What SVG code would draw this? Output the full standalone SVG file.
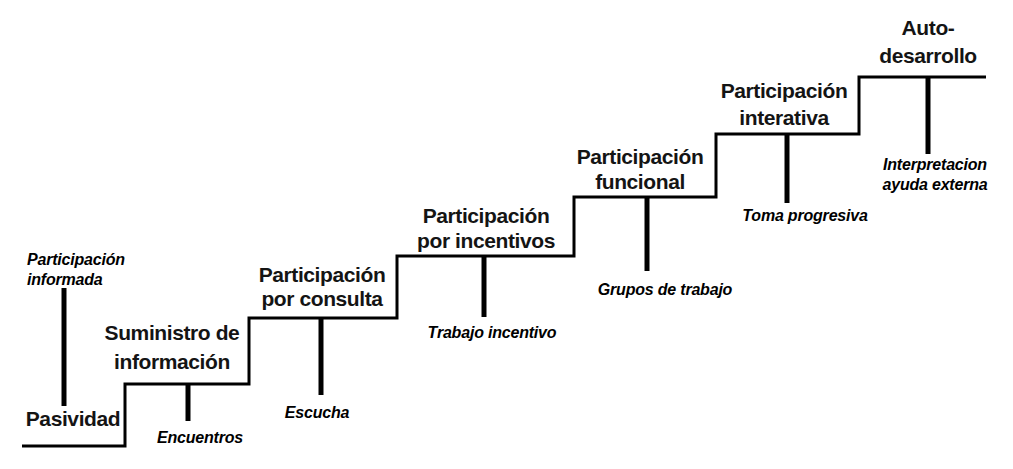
<svg xmlns="http://www.w3.org/2000/svg" width="1013" height="469" viewBox="0 0 1013 469">
<style>
.step{font-family:"Liberation Sans",Arial,sans-serif;font-size:21px;font-weight:bold;letter-spacing:-0.4px;fill:#141414;text-anchor:middle}
.note{font-family:"Liberation Sans",Arial,sans-serif;font-size:16px;font-weight:bold;font-style:italic;letter-spacing:-0.2px;fill:#000;text-anchor:middle}
.stair{fill:none;stroke:#000;stroke-width:3;stroke-linejoin:miter}
.tick{stroke:#000;stroke-width:5;fill:none}
</style>
<rect width="1013" height="469" fill="#fff"/>
<g id="stairs">
<path class="stair" d="M22,446 H125 V384 H249 V318 H397 V256 H574 V197 H716 V134 H859 V77 H986"/>
</g>
<g id="connectors">
<line class="tick" x1="64" y1="288" x2="64" y2="406"/>
<line class="tick" x1="188" y1="384" x2="188" y2="421"/>
<line class="tick" x1="321" y1="318" x2="321" y2="395"/>
<line class="tick" x1="484" y1="256" x2="484" y2="317"/>
<line class="tick" x1="647" y1="197" x2="647" y2="271"/>
<line class="tick" x1="787" y1="134" x2="787" y2="203"/>
<line class="tick" x1="928" y1="77" x2="928" y2="154"/>
</g>
<g id="pasividad">
<text class="step" x="73" y="426">Pasividad</text>
<text class="note" x="27" y="265" style="text-anchor:start">Participación</text>
<text class="note" x="27" y="285" style="text-anchor:start">informada</text>
</g>
<g id="suministro">
<text class="step" x="172" y="340">Suministro de</text>
<text class="step" x="172" y="369">información</text>
<text class="note" x="200" y="443">Encuentros</text>
</g>
<g id="consulta">
<text class="step" x="322" y="282">Participación</text>
<text class="step" x="322" y="306">por consulta</text>
<text class="note" x="317" y="418">Escucha</text>
</g>
<g id="incentivos">
<text class="step" x="486" y="223">Participación</text>
<text class="step" x="486" y="248">por incentivos</text>
<text class="note" x="492" y="338">Trabajo incentivo</text>
</g>
<g id="funcional">
<text class="step" x="640" y="164">Participación</text>
<text class="step" x="640" y="189">funcional</text>
<text class="note" x="665" y="295">Grupos de trabajo</text>
</g>
<g id="interativa">
<text class="step" x="784" y="98">Participación</text>
<text class="step" x="784" y="125">interativa</text>
<text class="note" x="805" y="221">Toma progresiva</text>
</g>
<g id="autodesarrollo">
<text class="step" x="928" y="35">Auto-</text>
<text class="step" x="928" y="63">desarrollo</text>
<text class="note" x="935" y="170">Interpretacion</text>
<text class="note" x="935" y="190">ayuda externa</text>
</g>
</svg>
